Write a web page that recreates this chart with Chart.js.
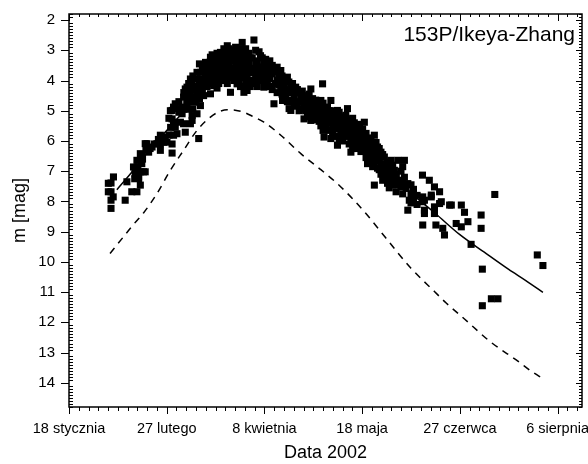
<!DOCTYPE html>
<html>
<head>
<meta charset="utf-8">
<title>153P/Ikeya-Zhang</title>
<script src="https://cdn.jsdelivr.net/npm/chart.js@4"></script>
<style>
  body { margin: 0; background: #fff; }
  #wrap { width: 588px; height: 464px; }
</style>
</head>
<body>
<div id="wrap"><canvas id="lightCurve" width="588" height="464"></canvas></div>
<script>
// x values are days counted from 18 January 2002
const xTickDays = [0, 40, 80, 120, 160, 200];
const xTickLabels = ['18 stycznia', '27 lutego', '8 kwietnia', '18 maja', '27 czerwca', '6 sierpnia'];
const yTickMags = [2, 3, 4, 5, 6, 7, 8, 9, 10, 11, 12, 13, 14];

// observed magnitudes [day, mag]
const observations = [
    [16.1, 7.40], [16.1, 7.68], [17.2, 7.39], [17.2, 7.68], [17.2, 7.96], [17.2, 8.23], [18.2, 7.19], [18.1, 7.85],
    [23.0, 7.96], [23.7, 7.35], [25.7, 7.68], [26.4, 6.86], [27.1, 6.97], [27.1, 7.08], [27.8, 6.64], [27.8, 7.68],
    [28.5, 7.19], [28.5, 7.24], [29.2, 6.42], [29.2, 7.46], [29.2, 7.02], [29.8, 6.47], [29.8, 6.75], [30.5, 7.02],
    [31.2, 6.09], [31.2, 7.02], [31.9, 6.09], [32.6, 6.37], [34.0, 6.20], [36.0, 6.09], [37.4, 5.81], [37.4, 6.09],
    [37.4, 6.31], [38.7, 5.87], [38.7, 6.04], [40.1, 6.04],
    [26.9, 7.25], [28.2, 6.85], [30.1, 6.60], [31.5, 6.30], [33.2, 6.25], [35.0, 6.10], [36.6, 5.95], [39.4, 5.95],
    [41.0, 5.80], [41.6, 5.55], [40.9, 5.25], [41.5, 5.00],
    [42.2, 4.99], [42.2, 5.27], [42.2, 6.10], [42.2, 6.40], [42.8, 4.88], [42.8, 5.38], [42.8, 5.81], [43.5, 4.77],
    [43.5, 5.54], [44.2, 4.93], [44.2, 5.76], [45.6, 5.38], [46.3, 4.88], [46.3, 5.10], [46.9, 4.55], [46.9, 5.43],
    [47.6, 4.28], [47.6, 5.71], [48.3, 4.22], [48.3, 4.66], [48.3, 4.77], [49.7, 3.95], [49.7, 4.40], [49.7, 4.66],
    [49.7, 5.43], [50.4, 4.00], [50.4, 5.16], [50.4, 5.32], [51.0, 4.30], [51.0, 4.72], [52.4, 3.73], [52.4, 4.33],
    [52.4, 4.50], [52.4, 5.10], [53.1, 5.92], [53.8, 3.73], [53.8, 4.00], [53.8, 4.83],
    [55.1, 3.60], [55.1, 4.17], [55.1, 4.50], [56.5, 3.50], [56.5, 3.89], [56.5, 4.20], [57.2, 3.56], [57.2, 3.90],
    [57.9, 3.23], [57.9, 3.70], [57.9, 4.44], [59.2, 3.30], [59.2, 3.60], [59.2, 4.17], [60.6, 3.10], [60.6, 3.45],
    [60.6, 3.90], [60.6, 4.25], [62.0, 3.07], [62.0, 3.40], [62.0, 3.70], [62.0, 4.00], [63.4, 2.95], [63.4, 3.25],
    [63.4, 3.55], [63.4, 4.00], [64.8, 2.85], [64.8, 3.45], [64.8, 3.80], [64.8, 4.10], [66.1, 3.10], [66.1, 3.67],
    [66.1, 4.39], [66.8, 3.34], [66.8, 3.90], [67.5, 3.01], [67.5, 3.60], [67.5, 4.00], [68.8, 3.05], [68.8, 3.34],
    [68.8, 3.75], [68.8, 4.11], [70.2, 2.95], [70.2, 3.30], [70.2, 3.60], [70.2, 3.90], [70.2, 4.20], [70.9, 2.74],
    [71.6, 3.12], [71.6, 3.70], [71.6, 4.39], [72.9, 3.40], [72.9, 3.85], [72.9, 4.33], [73.6, 3.10], [73.6, 3.45],
    [73.6, 4.05], [75.0, 3.25], [75.0, 3.60], [75.0, 4.00], [75.7, 2.66], [75.7, 3.67], [77.1, 3.35], [77.1, 3.89],
    [77.1, 4.20], [78.4, 3.18], [78.4, 3.60], [78.4, 4.00], [79.8, 3.40], [79.8, 3.80], [79.8, 4.22], [81.2, 3.45],
    [81.2, 3.75], [81.2, 4.10], [83.2, 3.50], [83.2, 3.78], [83.2, 4.30], [83.9, 4.77], [85.2, 3.56], [85.2, 4.00],
    [85.2, 4.40], [86.7, 3.67], [86.7, 4.00], [86.7, 4.30], [87.4, 4.66], [88.0, 3.90], [88.0, 4.20], [89.4, 3.89],
    [89.4, 4.40], [89.4, 4.70], [90.1, 4.93], [90.8, 4.15], [90.8, 4.99],
    [92.2, 4.25], [92.2, 4.55], [92.2, 4.80], [92.8, 4.22], [94.2, 4.40], [94.2, 4.70], [94.2, 5.00], [94.9, 4.55],
    [96.2, 4.50], [96.2, 4.80], [96.2, 5.27], [97.6, 4.60], [97.6, 4.90], [97.6, 5.10], [99.0, 4.28], [99.0, 4.75],
    [99.0, 5.32], [100.4, 4.80], [100.4, 5.05], [100.4, 5.30], [101.7, 4.77], [101.7, 5.10], [103.1, 4.66], [103.1, 4.90],
    [103.1, 5.20], [103.1, 5.50], [103.8, 4.11], [104.4, 5.32], [104.4, 5.87], [105.8, 4.88], [105.8, 5.10], [105.8, 5.40],
    [107.2, 4.66], [107.2, 5.20], [107.2, 5.92], [108.5, 5.00], [108.5, 5.30], [108.5, 5.54], [109.9, 4.99], [109.9, 5.60],
    [109.9, 6.14], [111.3, 5.20], [111.3, 5.45], [111.3, 5.80], [112.6, 5.32], [112.6, 5.60], [114.0, 4.93], [114.0, 5.30],
    [114.0, 5.65], [115.4, 5.50], [115.4, 5.90], [115.4, 6.37], [116.8, 5.40], [116.8, 5.76], [116.8, 6.10], [118.2, 5.60],
    [118.2, 5.90], [119.5, 5.70], [119.5, 6.09], [119.5, 6.35], [120.9, 5.38], [120.9, 5.90], [122.2, 6.20], [122.2, 6.45],
    [122.2, 6.75], [123.6, 6.00], [123.6, 6.30], [123.6, 6.60], [125.0, 5.81], [125.0, 6.40], [125.0, 6.75], [125.0, 7.46],
    [126.3, 6.20], [126.3, 6.50], [126.3, 6.90], [127.7, 6.37], [127.7, 6.75], [127.7, 7.10], [129.1, 6.53], [129.1, 6.90],
    [129.1, 7.20], [130.4, 6.70], [130.4, 7.00], [130.4, 7.40], [131.8, 6.64], [131.8, 7.10], [133.2, 6.97], [133.2, 7.30],
    [133.9, 7.68], [134.6, 6.64], [134.6, 7.30], [135.9, 7.00], [135.9, 7.52], [137.3, 6.64], [137.3, 7.20], [138.0, 7.57],
    [138.7, 7.41], [138.7, 8.29], [139.3, 7.96],
    [141.0, 7.60], [141.0, 7.90], [142.5, 7.80], [142.5, 8.10], [144.7, 7.13], [144.8, 7.85], [144.8, 8.01], [144.8, 8.78],
    [145.5, 7.96], [145.5, 8.29], [145.5, 8.40], [147.5, 7.30], [148.3, 7.79], [148.3, 7.85], [149.6, 7.52], [149.6, 8.18],
    [149.6, 8.40], [150.2, 8.78], [151.7, 7.68], [151.7, 8.07], [152.4, 8.01], [153.0, 8.89], [153.7, 9.11], [155.8, 8.12],
    [156.5, 8.12], [158.5, 8.73], [160.6, 8.12], [160.6, 8.84], [161.9, 8.36], [163.3, 8.67], [164.6, 9.42],
    [168.7, 8.45], [168.7, 8.89], [169.2, 10.24], [169.2, 11.45], [172.9, 11.22], [174.3, 7.77], [175.6, 11.22],
    [191.7, 9.77], [194.0, 10.12],
    // denser part of the cloud, March - June
    [45.0, 4.70], [45.0, 5.05], [47.0, 4.40], [47.0, 4.95], [49.0, 4.10], [49.0, 4.50], [49.0, 4.95],
    [50.7, 3.85], [50.7, 4.20], [50.7, 4.55], [50.7, 4.95], [52.0, 3.95], [52.0, 4.70], [53.4, 3.45], [53.4, 4.15],
    [53.4, 4.60], [54.6, 3.65], [54.6, 3.95], [54.6, 4.35], [55.9, 3.40], [55.9, 3.75], [55.9, 4.05], [57.5, 3.40],
    [57.5, 4.10], [58.6, 3.15], [58.6, 3.50], [58.6, 3.85], [59.9, 3.25], [59.9, 3.75], [59.9, 4.05], [61.3, 3.25],
    [61.3, 3.55], [61.3, 3.85], [61.3, 4.10], [62.7, 3.10], [62.7, 3.85], [64.1, 3.10], [64.1, 3.30], [64.1, 3.65],
    [64.1, 3.95], [65.5, 2.95], [65.5, 3.25], [65.5, 3.55], [65.5, 3.90], [67.2, 3.20], [67.2, 3.75], [68.2, 2.90],
    [68.2, 3.50], [68.2, 3.90], [69.5, 3.15], [69.5, 3.45], [69.5, 3.75], [69.5, 4.05], [71.0, 3.00], [71.0, 3.50],
    [71.0, 3.90], [72.3, 2.95], [72.3, 3.25], [72.3, 3.60], [72.3, 4.10], [74.2, 3.25], [74.2, 3.75], [74.2, 4.20],
    [76.4, 3.00], [76.4, 3.45], [76.4, 3.80], [76.4, 4.10], [77.8, 3.05], [77.8, 3.70], [79.1, 3.25], [79.1, 3.55],
    [79.1, 3.95], [80.5, 3.30], [80.5, 3.60], [80.5, 3.95], [82.2, 3.35], [82.2, 3.60], [82.2, 3.95], [82.2, 4.20],
    [84.5, 3.70], [84.5, 4.10], [85.9, 3.80], [85.9, 4.15], [87.2, 3.85], [87.2, 4.10], [87.2, 4.45], [88.7, 4.05],
    [88.7, 4.55], [90.0, 4.05], [90.0, 4.30], [90.0, 4.65], [91.5, 4.10], [91.5, 4.40], [91.5, 4.70], [93.5, 4.30],
    [93.5, 4.85], [95.5, 4.35], [95.5, 4.65], [95.5, 4.95], [96.9, 4.70], [96.9, 5.00], [98.3, 4.45], [98.3, 5.00],
    [98.3, 5.20], [99.7, 4.60], [99.7, 4.95], [99.7, 5.20], [101.0, 4.65], [101.0, 4.95], [101.0, 5.25], [102.4, 4.85],
    [102.4, 5.35], [104.0, 4.75], [104.0, 5.05], [104.0, 5.65], [105.1, 5.25], [105.1, 5.60], [106.5, 5.00], [106.5, 5.35],
    [106.5, 5.65], [107.9, 5.05], [107.9, 5.45], [107.9, 5.75], [109.2, 5.15], [109.2, 5.40], [109.2, 5.85], [110.6, 5.05],
    [110.6, 5.35], [110.6, 5.60], [110.6, 5.95], [112.0, 5.45], [112.0, 5.75], [112.0, 6.00], [113.3, 5.15], [113.3, 5.50],
    [113.3, 5.85], [114.7, 5.40], [114.7, 5.75], [114.7, 6.10], [116.1, 5.25], [116.1, 5.65], [116.1, 6.00], [116.1, 6.25],
    [117.5, 5.55], [117.5, 5.95], [117.5, 6.25], [118.9, 5.45], [118.9, 5.80], [118.9, 6.15], [120.2, 5.60], [120.2, 6.00],
    [120.2, 6.25], [121.6, 5.75], [121.6, 6.10], [121.6, 6.55], [122.9, 5.90], [122.9, 6.40], [124.3, 6.15], [124.3, 6.50],
    [124.3, 6.85], [125.7, 6.05], [125.7, 6.35], [125.7, 6.65], [127.0, 6.25], [127.0, 6.60], [127.0, 6.95], [128.4, 6.45],
    [128.4, 6.85], [128.4, 7.30], [129.8, 6.80], [129.8, 7.10], [131.1, 6.85], [131.1, 7.25], [131.1, 7.55], [132.5, 6.80],
    [132.5, 7.05], [132.5, 7.45], [134.0, 7.10], [134.0, 7.45], [136.6, 6.85], [136.6, 7.35], [136.6, 7.75], [140.0, 7.45],
    [140.0, 7.75], [140.0, 8.05]
];

// fitted light curve (solid)
const fitDays = [19.6, 25, 30, 35, 40, 45, 50, 55, 60, 65, 70, 75, 80, 90, 100, 110, 120, 130, 140, 150, 160, 170, 180, 187, 194];
const fitMags = [7.61, 7.1, 6.6, 6.1, 5.65, 5.2, 4.75, 4.35, 4.0, 3.8, 3.72, 3.75, 3.88, 4.3, 4.85, 5.45, 6.15, 6.9, 7.72, 8.4, 9.1, 9.68, 10.25, 10.62, 11.01];

// predicted light curve (dashed)
const modelDays = [16.8, 22, 26, 30.5, 36, 41.5, 46.9, 52.4, 57.9, 61, 64.8, 68, 71.6, 75.5, 79.8, 86.7, 94.9, 103.1, 111.3, 120.9, 129.8, 140, 149.6, 154.4, 161.9, 172.6, 183.9, 189.3, 194.1];
const modelMags = [9.72, 9.2, 8.8, 8.38, 7.74, 6.97, 6.31, 5.65, 5.21, 5.05, 4.97, 4.98, 5.05, 5.2, 5.38, 5.81, 6.42, 6.95, 7.52, 8.34, 9.22, 10.21, 10.98, 11.36, 11.89, 12.65, 13.29, 13.62, 13.87];

const xMinorStep = 4;
const yMinorStep = 0.1;

Chart.defaults.font.family = '"Liberation Sans", Arial, sans-serif';
Chart.defaults.color = '#000';

// frame with Origin-style major/minor ticks on all four sides
const frameTicks = {
    id: 'frameTicks',
    afterDraw(chart) {
        const { ctx, chartArea: a, scales: { x, y } } = chart;
        ctx.save();
        ctx.strokeStyle = '#000';
        ctx.lineWidth = 1;
        ctx.beginPath();
        for (let d = x.min; d <= x.max + 0.001; d += xMinorStep) {
            const px = Math.round(x.getPixelForValue(d)) + 0.5;
            const major = xTickDays.includes(d);
            ctx.moveTo(px, a.bottom);
            ctx.lineTo(px, a.bottom + (major ? 7 : 4));
            ctx.moveTo(px, a.top);
            ctx.lineTo(px, a.top + (major ? 7 : 3));
        }
        for (let k = Math.ceil(y.min * 10); k <= Math.floor(y.max * 10); k++) {
            const v = k * yMinorStep;
            const py = Math.round(y.getPixelForValue(v)) + 0.5;
            const major = k % 10 === 0;
            if (major) {
                ctx.moveTo(a.left - 8, py);
                ctx.lineTo(a.left, py);
                ctx.moveTo(a.right - 6, py);
                ctx.lineTo(a.right, py);
            } else {
                ctx.moveTo(a.left, py);
                ctx.lineTo(a.left + 4, py);
                ctx.moveTo(a.right - 3, py);
                ctx.lineTo(a.right, py);
            }
        }
        ctx.stroke();
        ctx.lineWidth = 1.5;
        ctx.strokeRect(a.left, a.top, a.right - a.left, a.bottom - a.top);

        // comet name inside the plot
        ctx.fillStyle = '#000';
        ctx.font = '21px "Liberation Sans", Arial, sans-serif';
        ctx.textAlign = 'right';
        ctx.textBaseline = 'middle';
        ctx.fillText('153P/Ikeya-Zhang', a.right - 7, a.top + 21);
        ctx.restore();
    }
};

const ctx = document.getElementById('lightCurve').getContext('2d');

new Chart(ctx, {
    type: 'scatter',
    data: {
        datasets: [{
            label: 'obserwacje',
            data: observations.map(([d, m]) => ({ x: d, y: m })),
            pointStyle: 'rect',
            pointRadius: 5,
            pointBorderWidth: 0,
            backgroundColor: '#000',
            borderColor: '#000',
            showLine: false
        }, {
            label: 'dopasowanie',
            data: fitDays.map((d, i) => ({ x: d, y: fitMags[i] })),
            showLine: true,
            pointRadius: 0,
            borderColor: '#000',
            borderWidth: 1.5,
            cubicInterpolationMode: 'monotone'
        }, {
            label: 'prognoza',
            data: modelDays.map((d, i) => ({ x: d, y: modelMags[i] })),
            showLine: true,
            pointRadius: 0,
            borderColor: '#000',
            borderWidth: 1.5,
            borderDash: [7, 6],
            cubicInterpolationMode: 'monotone'
        }]
    },
    options: {
        responsive: false,
        animation: false,
        devicePixelRatio: 1,
        layout: { padding: { top: 14, right: 6, left: 0, bottom: 0 } },
        plugins: {
            legend: { display: false },
            tooltip: { enabled: false }
        },
        scales: {
            x: {
                type: 'linear',
                min: 0,
                max: 210,
                grid: { display: false, drawTicks: false },
                border: { display: false },
                afterBuildTicks: s => { s.ticks = xTickDays.map(v => ({ value: v })); },
                afterFit: s => { s.height = 57; s.paddingLeft = 0; s.paddingRight = 0; },
                ticks: {
                    autoSkip: false,
                    maxRotation: 0,
                    padding: 13,
                    font: { size: 14.5 },
                    callback: (v, i) => xTickLabels[i]
                },
                title: {
                    display: true,
                    text: 'Data 2002',
                    font: { size: 18 },
                    padding: { top: 0, bottom: 0 }
                }
            },
            y: {
                type: 'linear',
                reverse: true,
                min: 1.8,
                max: 14.8,
                grid: { display: false, drawTicks: false },
                border: { display: false },
                afterBuildTicks: s => { s.ticks = yTickMags.map(v => ({ value: v })); },
                afterFit: s => { s.width = 69; s.paddingTop = 0; s.paddingBottom = 0; },
                ticks: {
                    padding: 14,
                    font: { size: 15 },
                    callback: v => String(v)
                },
                title: {
                    display: true,
                    text: 'm [mag]',
                    font: { size: 18 },
                    padding: { top: 9, bottom: 0 }
                }
            }
        }
    },
    plugins: [frameTicks]
});
</script>
</body>
</html>
